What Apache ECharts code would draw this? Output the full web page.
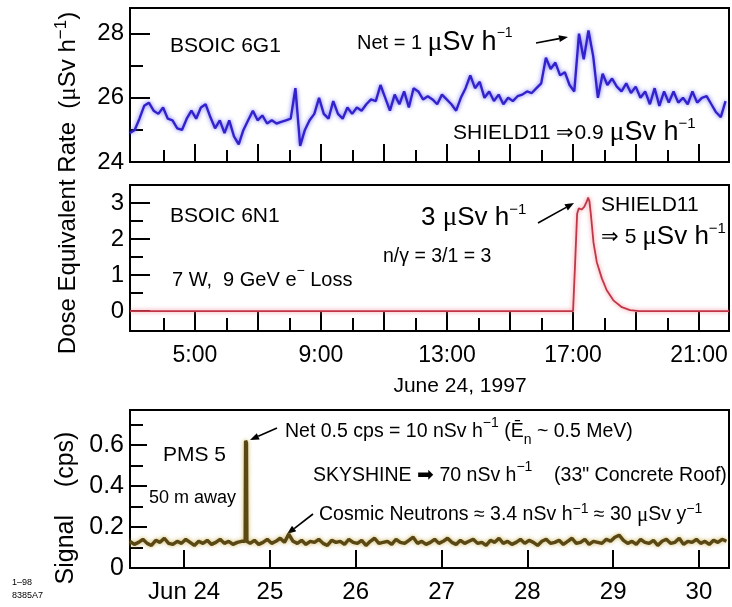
<!DOCTYPE html>
<html><head><meta charset="utf-8">
<script src="https://cdn.jsdelivr.net/npm/echarts@6/dist/echarts.min.js"></script>
<style>html,body{margin:0;padding:0;background:#fff}#c{width:732px;height:607px}</style>
</head><body><div id="c"></div>
<script>
const SANS = '"Liberation Sans", Arial, Helvetica, sans-serif';
const SERIF = '"Liberation Serif", "Times New Roman", serif';

// ---- Panel 1: BSOIC 6G1 (uSv/h), sampled every 0.15 h from 2.94 h
const g1Start = 2.94, g1Step = 0.15;
const g1Values = [
 24.9, 25.0, 25.35, 25.75, 25.85, 25.6, 25.5, 25.7, 25.35, 25.3,
 25.05, 25.0, 25.35, 25.6, 25.35, 25.7, 25.8, 25.4, 25.05, 25.3,
 24.9, 25.3, 24.8, 24.55, 25.0, 25.3, 25.6, 25.3, 25.45, 25.2,
 25.3, 25.2,
 25.25, 25.3, 25.35, 26.3, 24.5, 25.0, 25.3, 25.5, 26.0, 25.5,
 25.35, 25.9, 25.5, 25.35, 25.7, 25.5, 25.7, 25.6, 25.8, 25.95,
 25.9, 26.4, 26.0, 25.6, 26.1, 25.8, 26.2, 25.7, 26.3, 26.2,
 25.95, 26.05,
 25.95, 25.8, 26.1, 25.95, 25.8, 25.6, 26.0, 26.3, 26.7, 26.3,
 26.5, 26.0, 26.2, 25.9, 26.1, 25.8, 26.0, 25.9, 26.05, 26.1,
 26.2, 26.15, 26.3, 26.45, 27.25, 26.9, 27.1, 26.7, 26.8, 26.4,
 26.2, 28.0, 27.2, 28.1, 27.3, 26.0,
 26.75, 26.4, 26.6, 26.35, 26.2, 26.45, 26.15, 26.35, 26.0, 26.2,
 25.8, 26.3, 25.75, 26.2, 25.85, 26.2, 25.85, 26.0, 25.8, 26.2,
 25.85, 26.0, 26.05, 25.8, 25.55, 25.4, 25.9
];

// ---- Panel 2: BSOIC 6N1 (uSv/h)
const n1Hours  = [2.94, 17.0, 17.06, 17.13, 17.18, 17.28, 17.36, 17.44, 17.48, 17.52, 17.565, 17.65, 17.755, 17.915, 18.07, 18.28, 18.55, 18.81, 19.1, 21.95];
const n1Values = [0,    0,    1.2,   2.7,   2.85,  2.82,  2.9,   3.05,  3.15,  3.05,  2.7,    1.9,   1.36,   0.91,   0.58,  0.3,   0.11,  0.03,  0,    0];

// ---- Panel 3: PMS 5 (cps), sampled every 0.05 day from Jun 23.37
const p5Start = 23.37, p5Step = 0.05;
const p5Values = [
 0.13, 0.115, 0.125, 0.14, 0.12, 0.11, 0.135, 0.125, 0.145, 0.12,
 0.115, 0.13, 0.12, 0.14, 0.125, 0.11, 0.13, 0.12, 0.135, 0.115,
 0.125, 0.14, 0.12, 0.13, 0.115, 0.125, 0.13, 0.125, 0.12, 0.135,
 0.115, 0.125, 0.14, 0.12, 0.13, 0.145, 0.125, 0.165, 0.13, 0.12,
 0.135, 0.115, 0.13, 0.125, 0.14, 0.12, 0.11, 0.135, 0.125, 0.13,
 0.115, 0.14, 0.125, 0.12, 0.135, 0.11, 0.13, 0.145, 0.12, 0.125,
 0.13, 0.115, 0.14, 0.125, 0.12, 0.135, 0.15, 0.12, 0.13, 0.115,
 0.125, 0.14, 0.12, 0.13, 0.145, 0.125, 0.115, 0.135, 0.12, 0.13,
 0.14, 0.12, 0.125, 0.11, 0.135, 0.125, 0.145, 0.12, 0.13, 0.115,
 0.125, 0.14, 0.12, 0.135, 0.125, 0.11, 0.13, 0.14, 0.12, 0.125,
 0.135, 0.115, 0.13, 0.145, 0.12, 0.125, 0.14, 0.115, 0.13, 0.125,
 0.12, 0.14, 0.13, 0.15, 0.16, 0.135, 0.12, 0.13, 0.115, 0.14,
 0.125, 0.12, 0.135, 0.11, 0.13, 0.14, 0.12, 0.125, 0.145, 0.115,
 0.13, 0.125, 0.14, 0.12, 0.13, 0.115, 0.135, 0.125, 0.14, 0.13
];
const p5SpikeDays   = [24.712, 24.717, 24.727, 24.732];
const p5SpikeValues = [0.13,   0.62,   0.61,   0.13];

// ---- Axes
const hourMin = 2.94, hourMax = 21.95;
const hourLongTicks  = [5, 7, 9, 11, 13, 15, 17, 19, 21];
const hourShortTicks = [4, 6, 8, 10, 12, 14, 16, 18, 20];
const hourLabels = [5, 9, 13, 17, 21];
const g1Min = 24, g1Max = 28.8, g1Major = [26, 28], g1Minor = [25, 27], g1Labels = [24, 26, 28];
const n1Min = -0.55, n1Max = 3.5, n1Major = [0, 1, 2, 3], n1Minor = [0.5, 1.5, 2.5], n1Labels = [0, 1, 2, 3];
const dayMin = 23.37, dayMax = 30.35, dayTicks = [24, 25, 26, 27, 28, 29, 30], dayLabels = [24, 25, 26, 27, 28, 29, 30];
const p5Min = 0, p5Max = 0.77, p5Major = [0.2, 0.4, 0.6], p5Minor = [0.1, 0.3, 0.5, 0.7], p5Labels = [0, 0.2, 0.4, 0.6];

// ---- build series data
const g1Data = g1Values.map((v, i) => [g1Start + i * g1Step, v]);
const n1Data = n1Hours.map((h, i) => [h, n1Values[i]]);
let p5Data = p5Values.map((v, i) => [p5Start + i * p5Step, v])
  .filter(p => p[0] < p5SpikeDays[0] || p[0] > p5SpikeDays[p5SpikeDays.length - 1]);
p5SpikeDays.forEach((d, i) => p5Data.push([d, p5SpikeValues[i]]));
p5Data.sort((a, b) => a[0] - b[0]);

function xAx(grid, min, max, ticks, len, labels, fmt, fs, margin) {
  return {
    type: 'value', gridIndex: grid, min: min, max: max, position: 'bottom',
    axisLine: { show: false, onZero: false },
    splitLine: { show: false },
    axisTick: { show: true, inside: true, length: len, customValues: ticks, lineStyle: { color: '#000', width: 2 } },
    axisLabel: labels ? { show: true, customValues: labels, formatter: fmt, color: '#000', fontFamily: SANS, fontSize: fs, margin: margin } : { show: false }
  };
}
function yAx(grid, min, max, ticks, len, labels, fs) {
  return {
    type: 'value', gridIndex: grid, min: min, max: max, position: 'left',
    axisLine: { show: false, onZero: false },
    splitLine: { show: false },
    axisTick: { show: true, inside: true, length: len, customValues: ticks, lineStyle: { color: '#000', width: 2 } },
    axisLabel: labels ? { show: true, customValues: labels, color: '#000', fontFamily: SANS, fontSize: fs, margin: 6 } : { show: false }
  };
}

function rich(s, bs) {
  const b = bs || Math.round(s * 1.3);
  return {
    a:   { fontFamily: SANS, fontSize: s, lineHeight: b + 6, fill: '#000' },
    b:   { fontFamily: SANS, fontSize: b, lineHeight: b + 6, fill: '#000' },
    mu:  { fontFamily: SERIF, fontSize: b + 1, lineHeight: b + 6, fill: '#000' },
    sup: { fontFamily: SANS, fontSize: Math.round(s * 0.7), lineHeight: Math.round(s * 0.7), verticalAlign: 'top', fill: '#000' },
    sub: { fontFamily: SANS, fontSize: Math.round(s * 0.7), lineHeight: Math.round(s * 0.7), verticalAlign: 'bottom', fill: '#000' }
  };
}
function T(x, y, text, s, align, rot, bs) {
  return {
    type: 'text', x: x, y: y, rotation: rot || 0, silent: true, z: 100,
    style: { text: text, rich: rich(s, bs), fontFamily: SANS, fontSize: s, fill: '#000',
             align: align || 'left', verticalAlign: 'middle' }
  };
}
function arrow(x1, y1, x2, y2) {
  const a = Math.atan2(y2 - y1, x2 - x1), L = 9, W = 3.5;
  const bx = x2 - L * Math.cos(a), by = y2 - L * Math.sin(a);
  const px = -Math.sin(a) * W, py = Math.cos(a) * W;
  return {
    type: 'group', silent: true, z: 100,
    children: [
      { type: 'line', shape: { x1: x1, y1: y1, x2: bx, y2: by }, style: { stroke: '#000', lineWidth: 1.6 } },
      { type: 'polygon', shape: { points: [[x2, y2], [bx + px, by + py], [bx - px, by - py]] }, style: { fill: '#000' } }
    ]
  };
}

const GRIDSTYLE = { left: 130, right: 3, show: true, borderColor: '#000', borderWidth: 2, backgroundColor: 'rgba(0,0,0,0)', outerBoundsMode: 'none' };
const chart = echarts.init(document.getElementById('c'), null, { renderer: 'canvas' });
chart.setOption({
  animation: false,
  backgroundColor: '#fff',
  grid: [
    Object.assign({ top: 8, height: 154 }, GRIDSTYLE),
    Object.assign({ top: 185, height: 146 }, GRIDSTYLE),
    Object.assign({ top: 410, height: 158 }, GRIDSTYLE)
  ],
  xAxis: [
    xAx(0, hourMin, hourMax, hourLongTicks, 18),
    xAx(0, hourMin, hourMax, hourShortTicks, 12),
    xAx(1, hourMin, hourMax, hourLongTicks, 19, hourLabels, v => v + ':00', 23, 13),
    xAx(1, hourMin, hourMax, hourShortTicks, 13),
    xAx(2, dayMin, dayMax, dayTicks, 18, dayLabels, v => (v === 24 ? 'Jun 24' : String(v)), 24, 12)
  ],
  yAxis: [
    yAx(0, g1Min, g1Max, g1Major, 20, g1Labels, 24),
    yAx(0, g1Min, g1Max, g1Minor, 13),
    yAx(1, n1Min, n1Max, n1Major, 20, n1Labels, 24),
    yAx(1, n1Min, n1Max, n1Minor, 13),
    yAx(2, p5Min, p5Max, p5Major, 17, p5Labels, 25),
    yAx(2, p5Min, p5Max, p5Minor, 13)
  ],
  series: [
    { type: 'line', xAxisIndex: 0, yAxisIndex: 0, data: g1Data, symbol: 'none', silent: true, z: 3,
      lineStyle: { color: '#3322cc', width: 2.4, shadowColor: 'rgba(80,80,255,0.85)', shadowBlur: 4 } },
    { type: 'line', xAxisIndex: 2, yAxisIndex: 2, data: n1Data, symbol: 'none', silent: true, z: 3,
      lineStyle: { color: '#c03848', width: 1.8, shadowColor: 'rgba(240,120,135,0.9)', shadowBlur: 4 } },
    { type: 'line', xAxisIndex: 4, yAxisIndex: 4, data: p5Data, symbol: 'none', silent: true, z: 3,
      lineStyle: { color: '#5a4814', width: 3.4, shadowColor: 'rgba(200,175,80,0.9)', shadowBlur: 4 } }
  ],
  graphic: [
    T(170, 46, '{a|BSOIC 6G1}', 21),
    T(357, 43, '{a|Net = 1 }{mu|μ}{b|Sv h}{sup|−1}', 20, 'left', 0, 27),
    arrow(536, 43, 568, 37),
    T(453, 133, '{a|SHIELD11 ⇒0.9 }{mu|μ}{b|Sv h}{sup|−1}', 21),
    T(170, 216, '{a|BSOIC 6N1}', 21),
    T(172, 280, '{a|7 W,  9 GeV e}{sup|−}{a| Loss}', 20),
    T(421, 218, '{b|3 }{mu|μ}{b|Sv h}{sup|−1}', 21, 'left', 0, 26),
    arrow(538, 223, 574, 203),
    T(383, 257, '{a|n/γ = 3/1 = 3}', 19.5),
    T(601, 205, '{a|SHIELD11}', 21),
    T(601, 237, '{a|⇒ 5 }{mu|μ}{b|Sv h}{sup|−1}', 21, 'left', 0, 26),
    T(460, 386, '{a|June 24, 1997}', 21, 'center'),
    T(68, 183, '{a|Dose Equivalent Rate  (}{mu|μ}{a|Sv h}{sup|−1}{a|)}', 24, 'center', Math.PI / 2, 24),
    T(163, 455, '{a|PMS 5}', 21),
    T(149, 498, '{a|50 m away}', 18),
    T(285, 432, '{a|Net 0.5 cps = 10 nSv h}{sup|−1}{a| (Ē}{sub|n}{a| ~ 0.5 MeV)}', 19.5),
    arrow(277, 428, 250, 440),
    T(313, 476, '{a|SKYSHINE ➡ 70 nSv h}{sup|−1}{a|    (33" Concrete Roof)}', 19.5),
    T(319, 515, '{a|Cosmic Neutrons ≈ 3.4 nSv h}{sup|−1}{a| ≈ 30 }{mu|μ}{a|Sv y}{sup|−1}', 19.5, 'left', 0, 20),
    arrow(313, 514, 287, 534),
    T(66, 508, '{a|Signal    (cps)}', 25, 'center', Math.PI / 2),
    T(12, 583, '{a|1–98}', 9),
    T(12, 596, '{a|8385A7}', 9)
  ]
});
</script>
</body></html>
